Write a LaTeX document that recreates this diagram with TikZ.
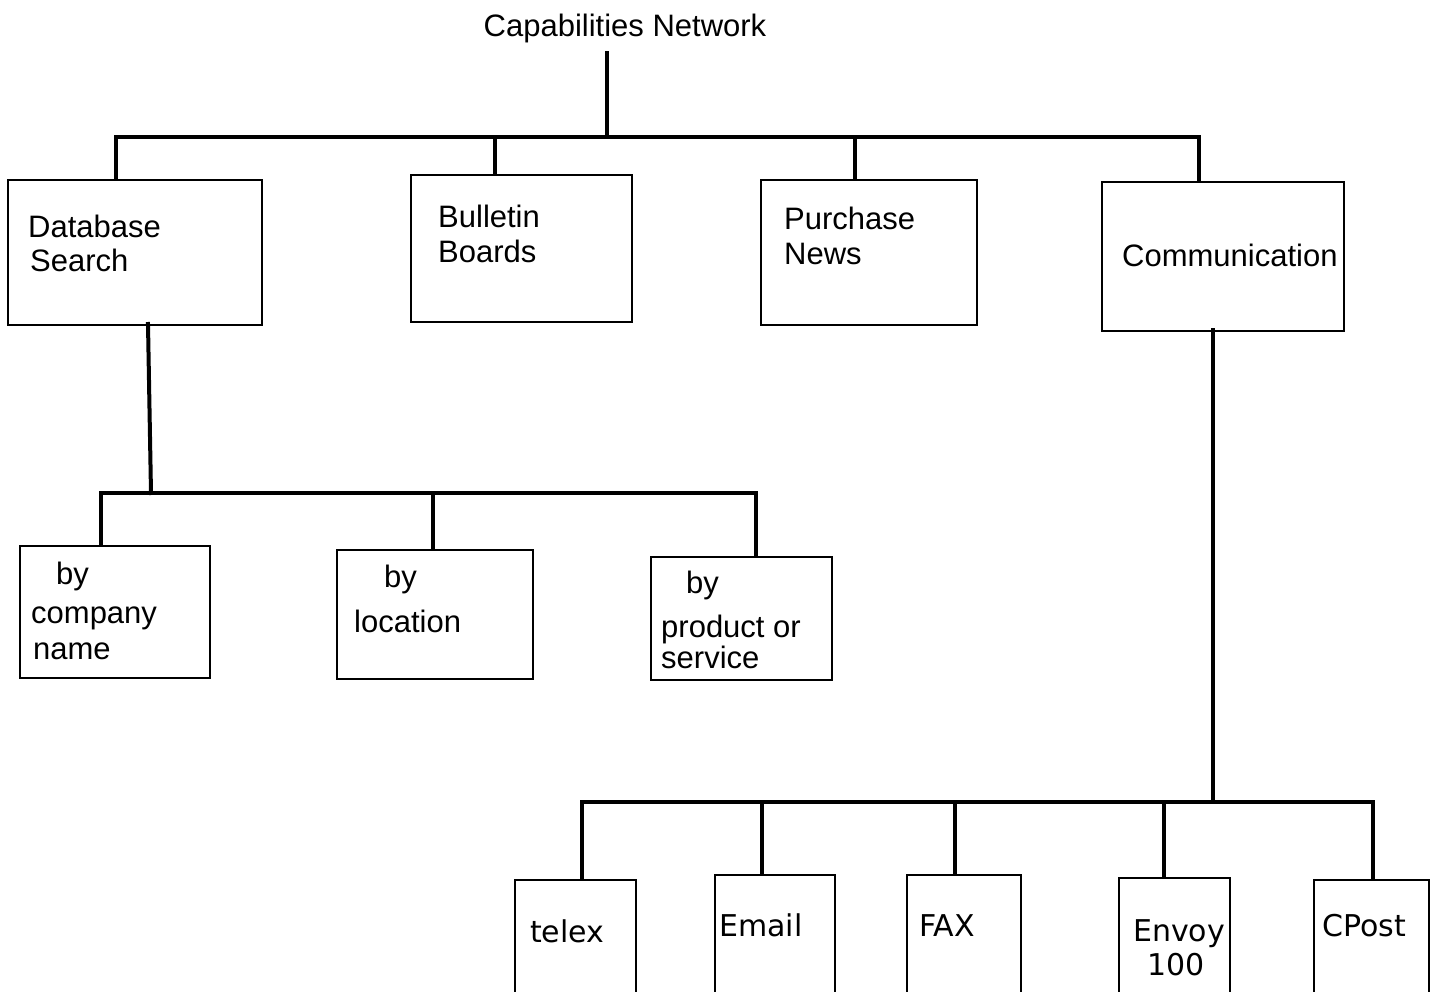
\documentclass[tikz,border=0pt]{standalone}
\usepackage{fontspec}
\setmainfont{Liberation Sans}
\newfontfamily\boxfont{DejaVu Sans}
\begin{document}
\begin{tikzpicture}[x=1pt,y=-1pt,
  box/.style={draw=black,line width=2.4pt,fill=white,inner sep=0pt,anchor=north west},
  conn/.style={draw=black,line width=4pt,line cap=rect},
  lab/.style={anchor=base west,inner sep=0pt,font=\fontsize{31}{33}\selectfont},
  blab/.style={anchor=base west,inner sep=0pt,font=\boxfont\fontsize{30}{33}\selectfont}]
\useasboundingbox (0,0) rectangle (1431,992);
% title
\node[anchor=base,inner sep=0pt,font=\fontsize{31}{33}\selectfont] (title) at (625,37) {Capabilities Network};
% top boxes
\node[box,minimum width=254pt,minimum height=145pt] (db) at (7,179) {};
\node[box,minimum width=221pt,minimum height=147pt] (bb) at (410,174) {};
\node[box,minimum width=216pt,minimum height=145pt] (pn) at (760,179) {};
\node[box,minimum width=242pt,minimum height=149pt] (cm) at (1101,181) {};
% second row
\node[box,minimum width=190pt,minimum height=132pt] (bc) at (19,545) {};
\node[box,minimum width=196pt,minimum height=129pt] (bl) at (336,549) {};
\node[box,minimum width=181pt,minimum height=123pt] (bp) at (650,556) {};
% bottom row
\node[box,minimum width=121pt,minimum height=113pt] (tx) at (514,879) {};
\node[box,minimum width=120pt,minimum height=118pt] (em) at (714,874) {};
\node[box,minimum width=114pt,minimum height=118pt] (fx) at (906,874) {};
\node[box,minimum width=111pt,minimum height=115pt] (ev) at (1118,877) {};
\node[box,minimum width=115pt,minimum height=113pt] (cp) at (1313,879) {};
% labels
\node[lab] (tdb1) at (28,238) {Database};
\node[lab] (tdb2) at (30,271) {Search};
\node[lab] (tbb1) at (438,228) {Bulletin};
\node[lab] (tbb2) at (438,262) {Boards};
\node[lab] (tpn1) at (784,230) {Purchase};
\node[lab] (tpn2) at (784,264) {News};
\node[lab] (tcm) at (1122,266) {Communication};
\node[lab] (tbc1) at (56,584) {by};
\node[lab] (tbc2) at (31,623) {company};
\node[lab] (tbc3) at (33,659) {name};
\node[lab] (tbl1) at (384,587) {by};
\node[lab] (tbl2) at (354,632) {location};
\node[lab] (tbp1) at (686,593) {by};
\node[lab] (tbp2) at (661,637) {product or};
\node[lab] (tbp3) at (661,668) {service};
\node[blab] (ttx) at (530,942) {telex};
\node[blab] (tem) at (719,936) {Email};
\node[blab] (tfx) at (919,936) {FAX};
\node[blab] (tev1) at (1133,941) {Envoy};
\node[blab] (tev2) at (1147,975) {100};
\node[blab] (tcp) at (1322,936) {CPost};
% connectors: top level
\coordinate (t0) at (607,53);
\coordinate (b0) at (607,137);
\coordinate (b0l) at (116,137);
\coordinate (b0r) at (1199,137);
\draw[conn] (t0) -- (b0);
\draw[conn] (b0l) -- (b0r);
\draw[conn] (b0l) -- (b0l |- db.north);
\draw[conn] (495,137) -- (495,174);
\draw[conn] (855,137) -- (855,179);
\draw[conn] (b0r) -- (b0r |- cm.north);
% database search subtree
\coordinate (d0) at (148,324);
\coordinate (d1) at (151,493);
\coordinate (d1l) at (101,493);
\coordinate (d1r) at (756,493);
\draw[conn] (d0) -- (d1);
\draw[conn] (d1l) -- (d1r);
\draw[conn] (d1l) -- (d1l |- bc.north);
\draw[conn] (433,493) -- (433,549);
\draw[conn] (d1r) -- (d1r |- bp.north);
% communication subtree
\coordinate (c0) at (1213,330);
\coordinate (c1) at (1213,802);
\coordinate (c1l) at (582,802);
\coordinate (c1r) at (1373,802);
\draw[conn] (c0) -- (c1);
\draw[conn] (c1l) -- (c1r);
\draw[conn] (c1l) -- (c1l |- tx.north);
\draw[conn] (762,802) -- (762,874);
\draw[conn] (955,802) -- (955,874);
\draw[conn] (1164,802) -- (1164,877);
\draw[conn] (c1r) -- (c1r |- cp.north);
\end{tikzpicture}
\end{document}
